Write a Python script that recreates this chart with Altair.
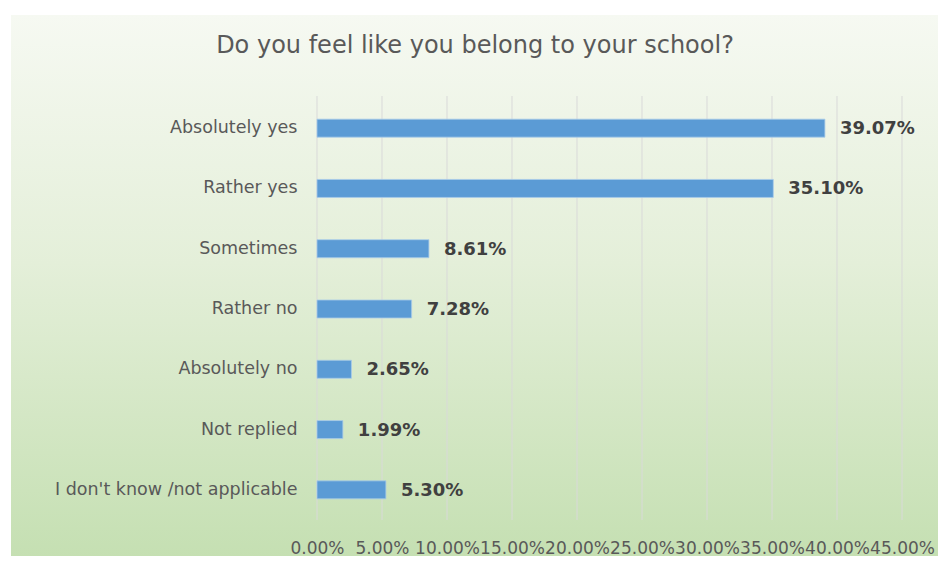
import altair as alt
import pandas as pd

categories = ["Absolutely yes", "Rather yes", "Sometimes", "Rather no",
              "Absolutely no", "Not replied", "I don't know /not applicable"]
values = [0.3907, 0.3510, 0.0861, 0.0728, 0.0265, 0.0199, 0.0530]
labels = ["39.07%", "35.10%", "8.61%", "7.28%", "2.65%", "1.99%", "5.30%"]
x_ticks = [0.0, 0.05, 0.10, 0.15, 0.20, 0.25, 0.30, 0.35, 0.40, 0.45]
title_text = "Do you feel like you belong to your school?"

df = pd.DataFrame({"cat": categories, "val": values, "lab": labels})
ticks_df = pd.DataFrame({"val": x_ticks})

W, H = 585, 422
PL, PT = 309, 90
TOTAL_W, TOTAL_H = 930, 548

FONT = "DejaVu Sans"

bg = alt.Chart(pd.DataFrame({"d": [0]})).mark_rect(
    color=alt.LinearGradient(
        gradient="linear", x1=0, y1=0, x2=0, y2=1,
        stops=[alt.GradientStop(color="#f6f9f2", offset=0),
               alt.GradientStop(color="#e4efd9", offset=0.45),
               alt.GradientStop(color="#c4dfb1", offset=1)]
    )
).encode(
    x=alt.value(-306), x2=alt.value(TOTAL_W - PL + 10),
    y=alt.value(-83), y2=alt.value(TOTAL_H - PT + 10)
)

xscale = alt.Scale(domain=[0, 0.45], nice=False)
xaxis = alt.Axis(title=None, values=x_ticks, format=".2%",
                 ticks=False, domain=False, grid=False, zindex=1,
                 labelFontSize=17, labelColor="#595959", labelFont=FONT,
                 labelPadding=20, labelOverlap=False, labelFlush=False)

grid = alt.Chart(ticks_df).mark_rule(color="#d9d9d9", strokeWidth=1).encode(
    x=alt.X("val:Q", scale=xscale, axis=xaxis),
    y=alt.value(-2), y2=alt.value(H))

ysc = alt.Y("cat:N", sort=categories,
            scale=alt.Scale(paddingInner=0.7, paddingOuter=0.35),
            axis=alt.Axis(title=None, ticks=False, domain=False, zindex=1,
                          labelFontSize=17.5, labelColor="#595959", labelFont=FONT,
                          labelPadding=20, labelLimit=400))

bars = alt.Chart(df).mark_bar(color="#5b9bd5", stroke="#a9cbe9", strokeWidth=0.8,
                              size=18).encode(x=alt.X("val:Q", scale=xscale, axis=xaxis), y=ysc)

text = alt.Chart(df).mark_text(align="left", baseline="middle", dx=15, dy=1,
                               fontSize=18, fontWeight="bold", color="#404040",
                               font=FONT).encode(
    x=alt.X("val:Q", scale=xscale, axis=xaxis), y=alt.Y("cat:N", sort=categories), text="lab:N")

title = alt.Chart(pd.DataFrame({"t": [title_text]})).mark_text(
    align="center", baseline="middle", fontSize=24, color="#595959", font=FONT
).encode(x=alt.value(475 - 317), y=alt.value(46 - 98), text="t:N")

chart = alt.layer(bg, grid, bars, text, title).properties(
    width=W, height=H,
    autosize=alt.AutoSizeParams(type="none"),
    padding={"left": PL, "top": PT, "right": TOTAL_W - PL - W, "bottom": TOTAL_H - PT - H},
    background="white"
).configure_view(stroke=None)

chart.save("out.html", embed_options={"renderer": "svg", "actions": False})
